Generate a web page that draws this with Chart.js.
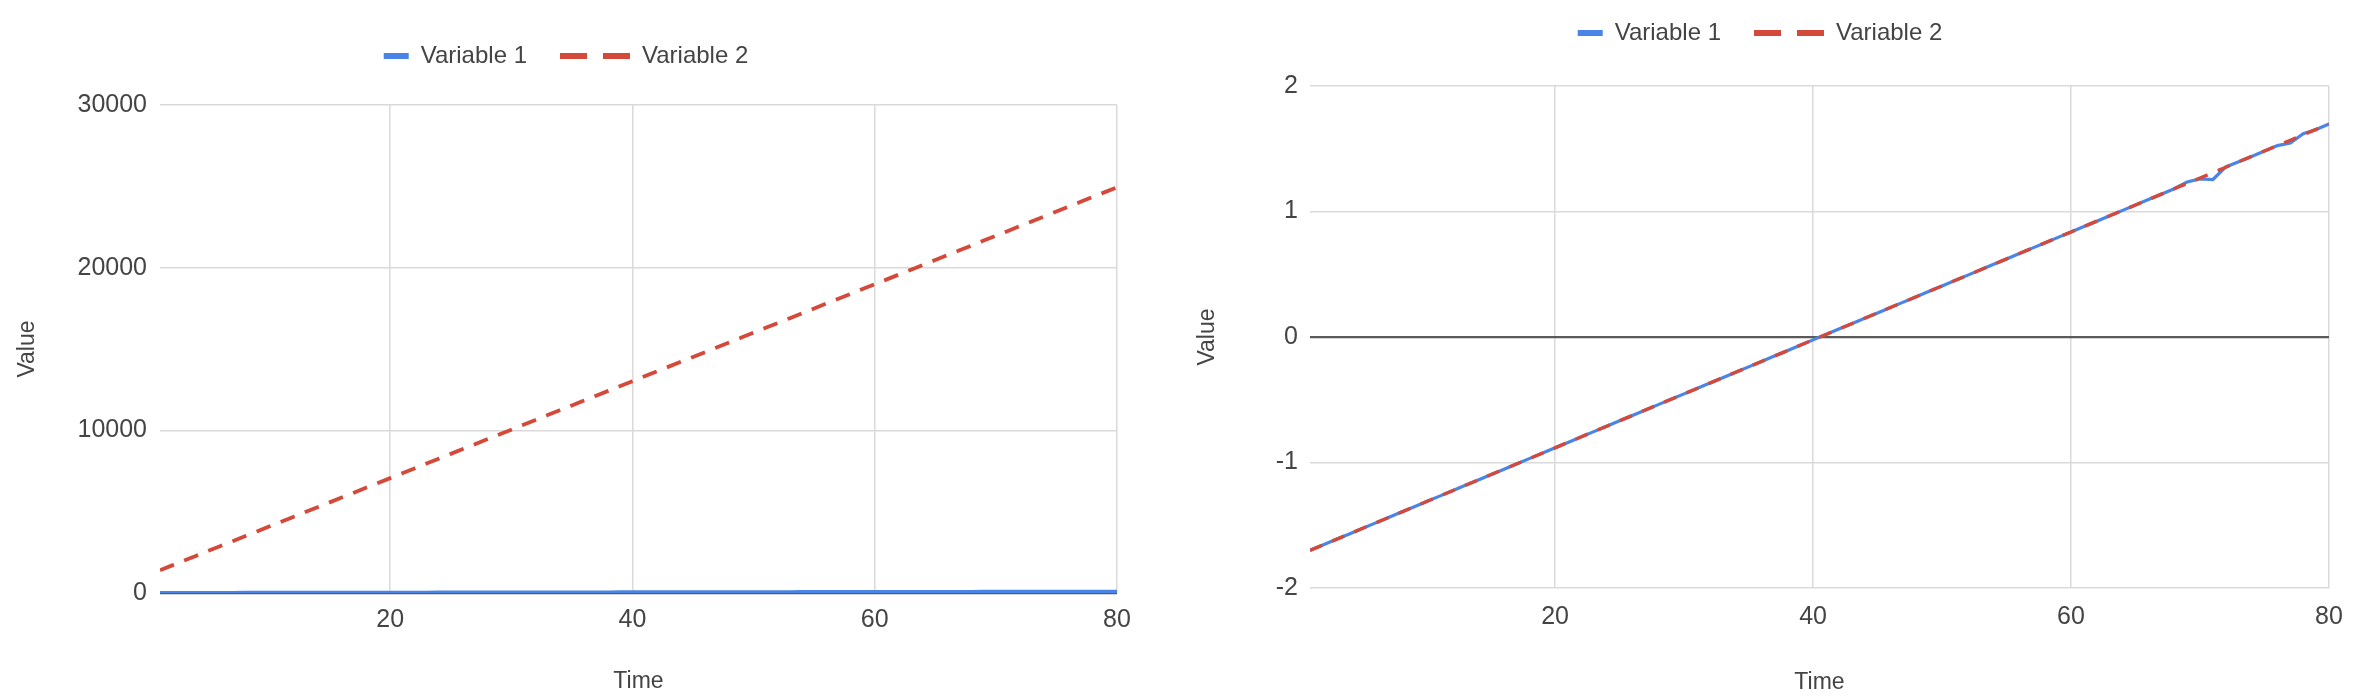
<!DOCTYPE html>
<html>
<head>
<meta charset="utf-8">
<script src="https://cdn.jsdelivr.net/npm/chart.js@4/dist/chart.umd.min.js"></script>
<style>
  html, body { margin: 0; padding: 0; background: #ffffff; width: 2374px; height: 700px; overflow: hidden; position: relative; }
  .box { position: absolute; }
  #leftBox { left: -30px; top: 0px; width: 1177px; height: 700px; }
  #rightBox { left: 1146px; top: -12px; width: 1215px; height: 712px; }
</style>
</head>
<body>
<div class="box" id="leftBox"><canvas id="leftChart" width="1177" height="700"></canvas></div>
<div class="box" id="rightBox"><canvas id="rightChart" width="1215" height="712"></canvas></div>
<script>
// ---------- data ----------
const time = [1,2,3,4,5,6,7,8,9,10,11,12,13,14,15,16,17,18,19,20,21,22,23,24,25,26,27,28,29,30,31,32,33,34,35,36,37,38,39,40,41,42,43,44,45,46,47,48,49,50,51,52,53,54,55,56,57,58,59,60,61,62,63,64,65,66,67,68,69,70,71,72,73,74,75,76,77,78,79,80];

const seriesNames = ['Variable 1', 'Variable 2'];

// left chart: raw values
const variable1Raw = [1,2,3,4,5,6,7,8,9,10,11,12,13,14,15,16,17,18,19,20,21,22,23,24,25,26,27,28,29,30,31,32,33,34,35,36,37,38,39,40,41,42,43,44,45,46,47,48,49,50,51,52,53,54,55,56,57,58,59,60,61,62,63,64,65,66,67,68,69.3,69.8,69.7,72,73,74,75,76,76.5,78.2,79,80];
const variable2Raw = [1400,1698,1996,2294,2592,2890,3188,3486,3784,4082,4380,4678,4976,5274,5572,5870,6168,6466,6764,7062,7360,7658,7956,8254,8552,8850,9148,9446,9744,10042,10340,10638,10936,11234,11532,11830,12128,12426,12724,13022,13320,13618,13916,14214,14512,14810,15108,15406,15704,16002,16300,16598,16896,17194,17492,17790,18088,18386,18684,18982,19280,19578,19876,20174,20472,20770,21068,21366,21664,21962,22260,22558,22856,23154,23452,23750,24048,24346,24644,24942];

// right chart: standardised values
const variable1Std = [-1.700,-1.657,-1.614,-1.571,-1.528,-1.485,-1.442,-1.399,-1.356,-1.313,-1.270,-1.227,-1.184,-1.141,-1.098,-1.055,-1.012,-0.969,-0.926,-0.883,-0.840,-0.797,-0.754,-0.711,-0.668,-0.625,-0.582,-0.539,-0.496,-0.453,-0.410,-0.367,-0.324,-0.281,-0.238,-0.195,-0.152,-0.109,-0.066,-0.023,0.020,0.063,0.106,0.149,0.192,0.235,0.278,0.321,0.364,0.407,0.450,0.493,0.536,0.579,0.622,0.665,0.708,0.751,0.794,0.837,0.880,0.923,0.966,1.009,1.052,1.095,1.138,1.181,1.235,1.260,1.255,1.355,1.396,1.439,1.482,1.525,1.545,1.620,1.654,1.697];
const variable2Std = [-1.700,-1.657,-1.614,-1.571,-1.528,-1.485,-1.442,-1.399,-1.356,-1.313,-1.270,-1.227,-1.184,-1.141,-1.098,-1.055,-1.012,-0.969,-0.926,-0.883,-0.840,-0.797,-0.754,-0.711,-0.668,-0.625,-0.582,-0.539,-0.496,-0.453,-0.410,-0.367,-0.324,-0.281,-0.238,-0.195,-0.152,-0.109,-0.066,-0.023,0.020,0.063,0.106,0.149,0.192,0.235,0.278,0.321,0.364,0.407,0.450,0.493,0.536,0.579,0.622,0.665,0.708,0.751,0.794,0.837,0.880,0.923,0.966,1.009,1.052,1.095,1.138,1.181,1.224,1.267,1.310,1.353,1.396,1.439,1.482,1.525,1.568,1.611,1.654,1.697];

const xTickValues = [20, 40, 60, 80];
const yTickValuesRaw = [0, 10000, 20000, 30000];
const yTickValuesStd = [-2, -1, 0, 1, 2];

const xTitle = 'Time';
const yTitle = 'Value';

// ---------- styling ----------
const FONT = "'Liberation Sans', Arial, Helvetica, sans-serif";
const BLUE = '#4a84e6';
const RED = '#d4493a';
const GRID = '#dadada';
const TEXT = '#444444';
const legendDashes = [[0, 45, 25, 200], [27, 16]];

function pts(xs, ys) { return xs.map((x, i) => ({ x: x, y: ys[i] })); }

function makeChart(canvasId, v1, v2, yTicks, yMin, yMax, geo) {
  const ctx = document.getElementById(canvasId).getContext('2d');
  return new Chart(ctx, {
    type: 'line',
    data: {
      datasets: [
        {
          label: seriesNames[0],
          data: pts(time, v1),
          borderColor: BLUE,
          backgroundColor: BLUE,
          borderWidth: geo.blueWidth,
          pointRadius: 0,
          tension: 0,
          order: 1
        },
        {
          label: seriesNames[1],
          data: pts(time, v2),
          borderColor: RED,
          backgroundColor: RED,
          borderWidth: geo.redWidth,
          borderDash: geo.redDash,
          pointRadius: 0,
          tension: 0,
          order: 0
        }
      ]
    },
    options: {
      responsive: false,
      animation: false,
      devicePixelRatio: 1,
      layout: { padding: { top: geo.padTop, right: geo.padRight, left: 0, bottom: 0 } },
      plugins: {
        tooltip: { enabled: false },
        legend: {
          display: true,
          position: 'top',
          align: 'center',
          labels: {
            usePointStyle: true,
            pointStyleWidth: 70,
            padding: 33,
            color: TEXT,
            font: { family: FONT, size: 24 },
            generateLabels: function (chart) {
              return chart.data.datasets.map(function (ds, i) {
                return {
                  text: ds.label,
                  datasetIndex: i,
                  fillStyle: ds.borderColor,
                  strokeStyle: ds.borderColor,
                  fontColor: TEXT,
                  lineWidth: 6,
                  lineDash: legendDashes[i],
                  lineCap: 'butt',
                  pointStyle: 'line',
                  hidden: false
                };
              });
            }
          }
        },
        title: {
          display: true,
          text: '',
          weight: 500,
          position: 'top',
          padding: 0,
          font: { size: geo.spacer, lineHeight: 1 }
        }
      },
      scales: {
        x: {
          type: 'linear',
          min: 1,
          max: 80,
          afterBuildTicks: function (axis) { axis.ticks = xTickValues.map(v => ({ value: v })); },
          afterFit: function (axis) { axis.height = geo.xAxisHeight; },
          border: { display: false },
          grid: { color: GRID, lineWidth: 1.5, drawTicks: false },
          ticks: {
            padding: geo.xTickPad,
            color: TEXT,
            maxRotation: 0,
            font: { family: FONT, size: 25 },
            callback: v => String(v)
          },
          title: {
            display: true,
            text: xTitle,
            color: TEXT,
            font: { family: FONT, size: 23 },
            padding: { top: 0, bottom: geo.xTitlePadBottom }
          }
        },
        y: {
          type: 'linear',
          min: yMin,
          max: yMax,
          afterBuildTicks: function (axis) { axis.ticks = yTicks.map(v => ({ value: v })); },
          afterFit: function (axis) { axis.width = geo.yAxisWidth; },
          border: { display: false },
          grid: {
            drawTicks: false,
            color: c => (c.tick && c.tick.value === 0) ? '#5a5a5a' : GRID,
            lineWidth: c => (c.tick && c.tick.value === 0) ? 2.2 : 1.5
          },
          ticks: {
            padding: geo.yTickPad,
            color: TEXT,
            font: { family: FONT, size: 25 },
            callback: v => String(v)
          },
          title: {
            display: true,
            text: yTitle,
            color: TEXT,
            font: { family: FONT, size: 23 },
            padding: { top: geo.yTitlePadTop, bottom: 0 }
          }
        }
      }
    }
  });
}

makeChart('leftChart', variable1Raw, variable2Raw, yTickValuesRaw, 0, 30000, {
  padTop: 11, padRight: 30, spacer: 27, xAxisHeight: 107, xTickPad: 12, xTitlePadBottom: 5,
  yAxisWidth: 190, yTickPad: 13, yTitlePadTop: 44,
  blueWidth: 4, redWidth: 3.8, redDash: [15, 11]
});

makeChart('rightChart', variable1Std, variable2Std, yTickValuesStd, -2, 2, {
  padTop: 0, padRight: 32, spacer: 31, xAxisHeight: 112, xTickPad: 14, xTitlePadBottom: 4,
  yAxisWidth: 164, yTickPad: 12, yTitlePadTop: 48,
  blueWidth: 3.2, redWidth: 3.4, redDash: [13, 11]
});
</script>
</body>
</html>
